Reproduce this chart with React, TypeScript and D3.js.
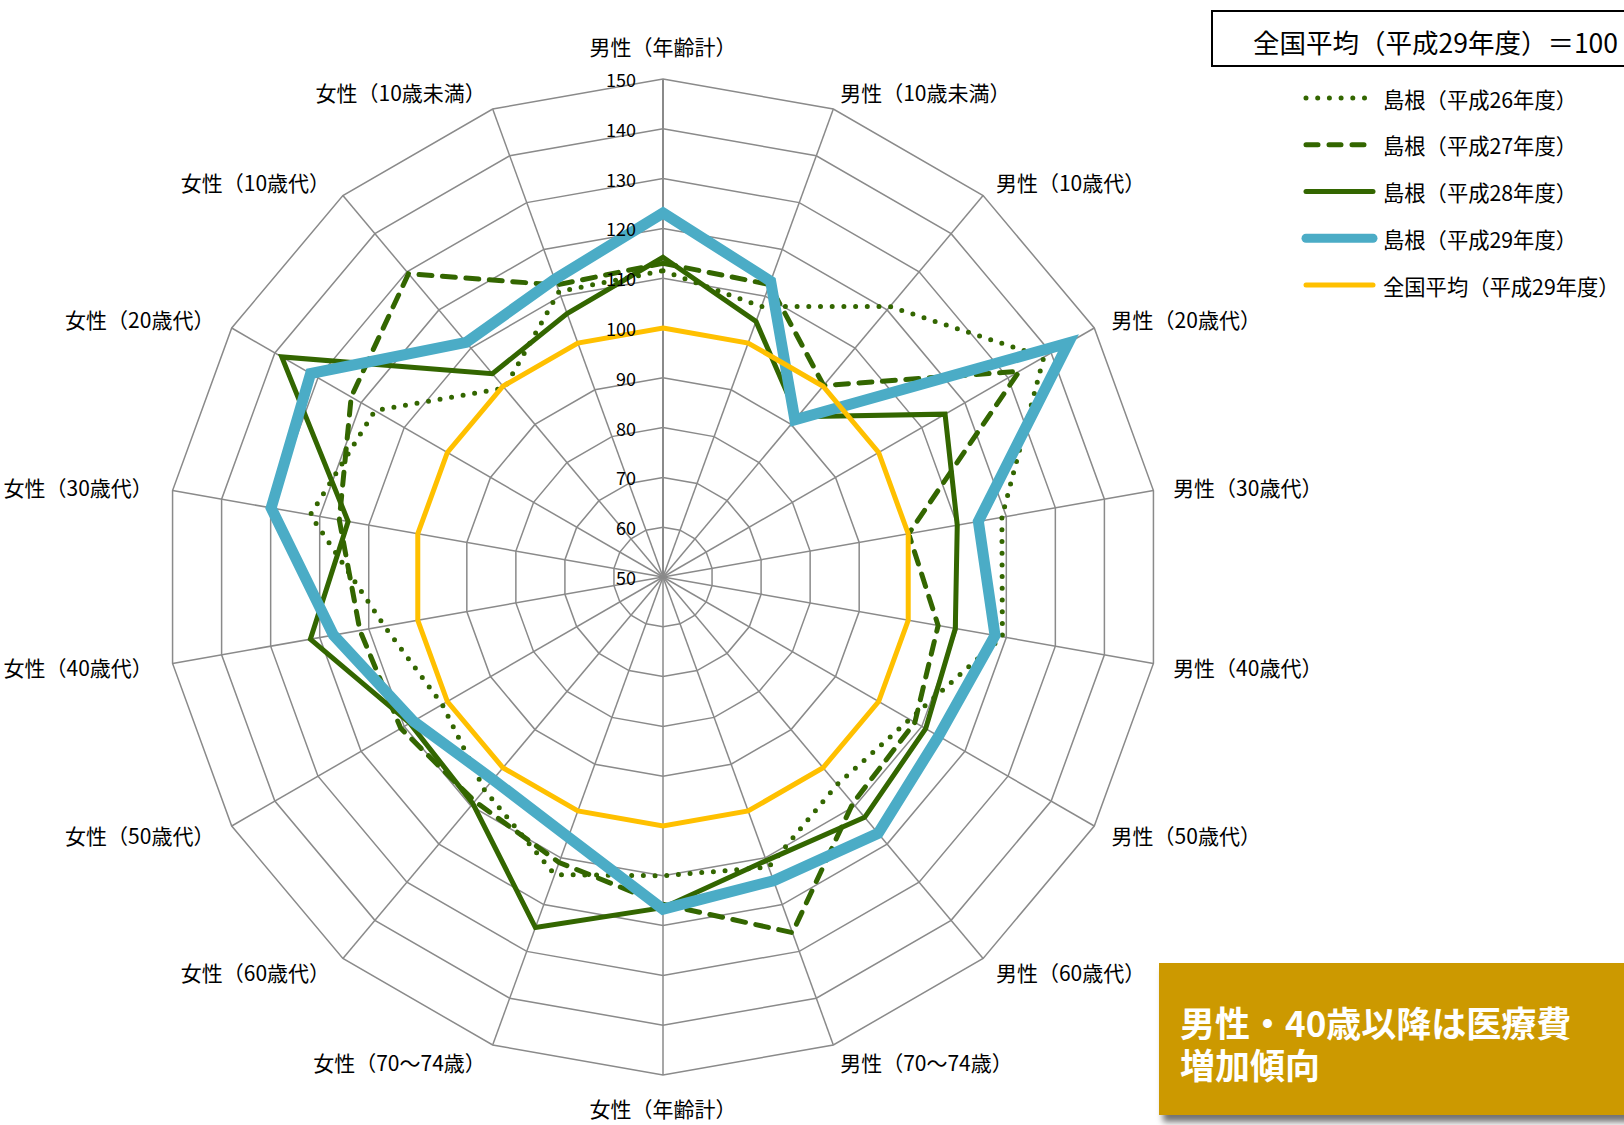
import React, { useEffect } from "react";
import * as d3 from "d3";

// axes, clockwise from the top
const categories = [
  "男性（年齢計）",
  "男性（10歳未満）",
  "男性（10歳代）",
  "男性（20歳代）",
  "男性（30歳代）",
  "男性（40歳代）",
  "男性（50歳代）",
  "男性（60歳代）",
  "男性（70～74歳）",
  "女性（年齢計）",
  "女性（70～74歳）",
  "女性（60歳代）",
  "女性（50歳代）",
  "女性（40歳代）",
  "女性（30歳代）",
  "女性（20歳代）",
  "女性（10歳代）",
  "女性（10歳未満）",
];

const h26 = [111.5, 107.8, 120.9, 138.3, 119.1, 119.2, 107.2, 104.4, 112, 110, 113.6, 105.8, 101.2, 106.8, 121.9, 116.8, 99.5, 111];
const h27 = [113, 112.5, 100.2, 132.6, 100.1, 106.1, 108.4, 109.3, 126, 115.7, 111, 108.8, 110.8, 111.8, 116, 122.3, 129.5, 112.4];
const h28 = [114.2, 104.6, 92, 115.4, 110, 109.6, 110.9, 113, 110.6, 116.4, 124.9, 109.4, 108.7, 121.9, 114.2, 138.4, 103.3, 106.3];
const h29 = [123.1, 113.2, 91.2, 144, 114.3, 117.7, 113.9, 117.2, 114.9, 116.7, 105.6, 103.1, 107.9, 117.2, 129.9, 131.7, 111.5, 113.6];
const national = [100, 100, 100, 100, 100, 100, 100, 100, 100, 100, 100, 100, 100, 100, 100, 100, 100, 100];

const seriesNames = [
  "島根（平成26年度）",
  "島根（平成27年度）",
  "島根（平成28年度）",
  "島根（平成29年度）",
  "全国平均（平成29年度）",
];

const ticks = [50, 60, 70, 80, 90, 100, 110, 120, 130, 140, 150];

const boxTitle = "全国平均（平成29年度）＝100";
const noteLines = ["男性・40歳以降は医療費", "増加傾向"];

const W = 1624;
const H = 1125;
const cx = 663;
const cy = 577;
const R = 498;
const FONT = "'Noto Sans CJK JP', 'Noto Sans', sans-serif";

const GREEN = "#336600";

const styles = [
  { stroke: GREEN, width: 5, dash: "0 11.7", cap: "round" },
  { stroke: GREEN, width: 5, dash: "13 10.5", cap: "round" },
  { stroke: GREEN, width: 5, dash: null, cap: "round" },
  { stroke: "#4BACC6", width: 11, dash: null, cap: "round" },
  { stroke: "#FFC000", width: 5, dash: null, cap: "round" },
];

export default function App() {
  useEffect(() => {
    document.body.style.margin = "0";
  }, []);

  const n = categories.length;
  const r = d3.scaleLinear().domain([50, 150]).range([0, R]);
  const angle = (i: number) => (i * 2 * Math.PI) / n;

  const radial = d3
    .lineRadial<number>()
    .angle((_, i) => angle(i))
    .radius((d) => r(d))
    .curve(d3.curveLinearClosed);

  const data = [h26, h27, h28, h29, national];
  const legendY = d3.scaleLinear().domain([0, 4]).range([98, 285]);

  return (
    <svg width={W} height={H} style={{ display: "block", position: "absolute", left: 0, top: 0 }} fontFamily={FONT}>
      <defs>
        <filter id="shadow" x="-10%" y="-10%" width="130%" height="140%">
          <feDropShadow dx="4" dy="7" stdDeviation="3" floodColor="#000" floodOpacity="0.55" />
        </filter>
      </defs>
      <rect width={W} height={H} fill="#fff" />

      <g transform={`translate(${cx},${cy})`}>
        {/* rings */}
        {ticks.slice(1).map((t) => (
          <path key={t} d={radial(categories.map(() => t)) || ""} fill="none" stroke="#8a8a8a" strokeWidth={1.5} />
        ))}
        {/* spokes */}
        {categories.map((c, i) => (
          <line
            key={c}
            x1={0}
            y1={0}
            x2={r(150) * Math.sin(angle(i))}
            y2={-r(150) * Math.cos(angle(i))}
            stroke="#8a8a8a"
            strokeWidth={i === 0 ? 2 : 1.5}
          />
        ))}

        {/* series */}
        {data.map((vals, k) => (
          <path
            key={k}
            d={radial(vals) || ""}
            fill="none"
            stroke={styles[k].stroke}
            strokeWidth={styles[k].width}
            strokeDasharray={styles[k].dash || undefined}
            strokeLinecap={styles[k].cap as any}
            strokeLinejoin="miter"
          />
        ))}

        {/* tick labels */}
        {ticks.map((t) => (
          <text key={t} x={-27} y={-r(t)} textAnchor="end" dominantBaseline="central" fontSize={18} fill="#000">
            {t}
          </text>
        ))}

        {/* category labels */}
        {categories.map((c, i) => {
          const s = Math.sin(angle(i));
          const co = Math.cos(angle(i));
          let x = (R + 20) * s;
          let y = -(R + 18) * co;
          let anchor = s > 0.01 ? "start" : "end";
          if (i === 0) {
            x = 0;
            y = -(R + 33);
            anchor = "middle";
          } else if (i === n / 2) {
            x = 0;
            y = R + 33;
            anchor = "middle";
          }
          return (
            <text key={c} x={x} y={y} textAnchor={anchor} dominantBaseline="central" fontSize={21} fill="#000">
              {c}
            </text>
          );
        })}
      </g>

      {/* legend */}
      <rect x={1212} y={11} width={430} height={55} fill="#fff" stroke="#000" strokeWidth={2} />
      <text x={1253} y={41} dominantBaseline="central" fontSize={26.5} fill="#000">
        {boxTitle}
      </text>
      {seriesNames.map((name, k) => (
        <g key={name} transform={`translate(0,${legendY(k)})`}>
          <line
            x1={1306}
            x2={k === 0 ? 1368 : 1373}
            y1={0}
            y2={0}
            stroke={styles[k].stroke}
            strokeWidth={k === 3 ? 9 : styles[k].width}
            strokeDasharray={styles[k].dash ? (k === 1 ? "12 11" : styles[k].dash!) : undefined}
            strokeLinecap="round"
          />
          <text x={1383} y={0} dominantBaseline="central" fontSize={21.3} fill="#000">
            {name}
          </text>
        </g>
      ))}

      {/* note */}
      <rect x={1159} y={963} width={480} height={152} fill="#CC9900" filter="url(#shadow)" />
      <text x={1180} y={1021} dominantBaseline="central" fontSize={35} fontWeight={700} fill="#fff">
        {noteLines.map((l, i) => (
          <tspan key={l} x={1180} dy={i === 0 ? 0 : 42}>
            {l}
          </tspan>
        ))}
      </text>
    </svg>
  );
}
